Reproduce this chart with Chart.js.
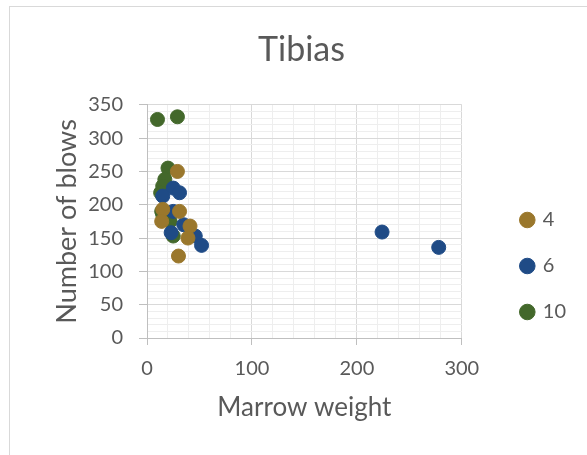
<!DOCTYPE html>
<html>
<head>
<meta charset="utf-8">
<script src="https://cdn.jsdelivr.net/npm/chart.js@4/dist/chart.umd.min.js"></script>
<style>
  html, body { margin: 0; padding: 0; background: #fff; overflow: hidden; }
  #wrap { position: relative; width: 587px; height: 455px; }
  #frame { position: absolute; left: 9px; top: 6px; width: 700px; height: 600px; border: 1px solid #d9d9d9; }
  canvas { position: absolute; left: 0; top: 0; }
</style>
</head>
<body>
<div id="wrap">
  <div id="frame"></div>
  <canvas id="chart" width="587" height="455"></canvas>
</div>
<script>
// marrow weight vs number of blows, one series per group
var series_names = ['4', '6', '10'];
var series_colors = ['#9A772C', '#1F4B86', '#43682B'];

var weight_4 = [29, 31, 15, 14, 41, 39, 30];
var blows_4  = [250, 190, 193, 175, 168, 150, 123];

var weight_6 = [25, 31, 15, 25, 35, 46, 52, 23, 224, 278];
var blows_6  = [225, 218, 213, 190, 170, 153, 139, 158, 159, 136];

var weight_10 = [10, 29, 20, 17, 15, 13, 14, 15, 22, 25];
var blows_10  = [328, 332, 255, 238, 228, 218, 190, 185, 175, 153];

var x_ticks = [0, 100, 200, 300];
var y_ticks = [0, 50, 100, 150, 200, 250, 300, 350];

function to_points(xs, ys){
  return xs.map(function(x, i){ return {x: x, y: ys[i]}; });
}

var all_x = [weight_4, weight_6, weight_10];
var all_y = [blows_4, blows_6, blows_10];

var datasets = series_names.map(function(name, i){
  return {
    label: name,
    data: to_points(all_x[i], all_y[i]),
    backgroundColor: series_colors[i],
    borderColor: series_colors[i],
    borderWidth: 1,
    pointRadius: 7,
    pointHoverRadius: 7
  };
});

var text_color = '#595959';
var major_grid = '#d9d9d9';
var minor_grid = '#eeeeee';

new Chart(document.getElementById('chart'), {
  type: 'scatter',
  data: { datasets: datasets },
  options: {
    responsive: false,
    animation: false,
    events: [],
    layout: { padding: { left: 27, right: 11, top: 0, bottom: 28 } },
    plugins: {
      title: {
        display: true,
        text: 'Tibias',
        color: text_color,
        font: { family: 'Lato', size: 34, weight: 'normal' },
        padding: { top: 30, bottom: 34 }
      },
      legend: {
        position: 'right',
        align: 'start',
        // blank title only pushes the items down next to the plot
        title: { display: true, text: ' ', font: { size: 10 }, padding: { top: 172, bottom: 0 } },
        labels: {
          usePointStyle: true,
          pointStyle: 'circle',
          boxWidth: 11,
          boxHeight: 11,
          padding: 26,
          color: text_color,
          font: { family: 'Lato', size: 20 }
        }
      },
      tooltip: { enabled: false }
    },
    scales: {
      x: {
        type: 'linear',
        min: 0, max: 300,
        afterFit: function(s){ s.height = 89; },
        ticks: {
          stepSize: 20,
          autoSkip: false,
          maxRotation: 0, minRotation: 0,
          padding: 12,
          color: text_color,
          font: { family: 'Lato', size: 20 },
          callback: function(v){ return x_ticks.indexOf(v) >= 0 ? String(v) : ''; }
        },
        grid: {
          color: function(c){ return c.tick && c.tick.value % 100 === 0 ? major_grid : minor_grid; },
          tickColor: function(c){ return c.tick && c.tick.value % 100 === 0 ? '#bfbfbf' : 'rgba(0,0,0,0)'; },
          tickLength: 7
        },
        border: { color: '#bfbfbf', width: 1 },
        title: {
          display: true,
          text: 'Marrow weight',
          color: text_color,
          font: { family: 'Lato', size: 26 },
          padding: { top: 0, bottom: 4 }
        }
      },
      y: {
        type: 'linear',
        min: 0, max: 350,
        afterFit: function(s){ s.width = 120; },
        ticks: {
          stepSize: 10,
          autoSkip: false,
          padding: 16,
          color: text_color,
          font: { family: 'Lato', size: 20 },
          callback: function(v){ return y_ticks.indexOf(v) >= 0 ? String(v) : ''; }
        },
        grid: {
          color: function(c){ return c.tick && c.tick.value % 50 === 0 ? major_grid : minor_grid; },
          tickColor: function(c){ return c.tick && c.tick.value % 50 === 0 ? '#bfbfbf' : 'rgba(0,0,0,0)'; },
          tickLength: 8
        },
        border: { color: '#bfbfbf', width: 1 },
        title: {
          display: true,
          text: 'Number of blows',
          color: text_color,
          font: { family: 'Lato', size: 27 },
          padding: { top: 24, bottom: 0 }
        }
      },
      // empty axis that keeps a gap between the plot and the legend
      gap: {
        type: 'linear',
        position: 'right',
        display: true,
        afterFit: function(s){ s.width = 34; },
        ticks: { display: false },
        grid: { display: false },
        border: { display: false }
      }
    }
  }
});
</script>
</body>
</html>
